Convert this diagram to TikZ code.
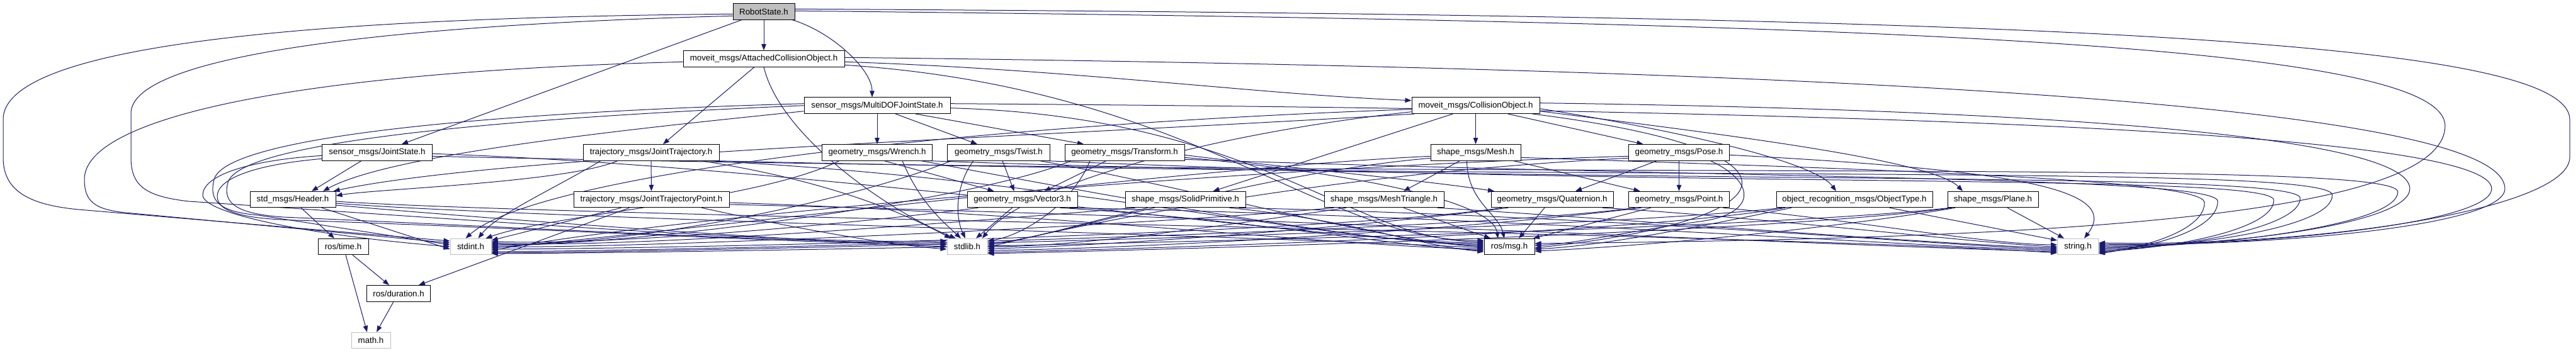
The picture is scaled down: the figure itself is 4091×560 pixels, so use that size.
\documentclass[tikz,border=0pt]{standalone}
\usepackage{fontspec}
\setmainfont{Liberation Sans}
\usetikzlibrary{arrows.meta,backgrounds}
\definecolor{edgecol}{HTML}{191970}
\definecolor{greyA}{HTML}{BFBFBF}
\begin{document}
\begin{tikzpicture}[x=1pt,y=1pt,
  nd/.style={draw=black, line width=1pt, fill=white, minimum height=25.5pt, inner sep=0pt, font=\fontsize{13.3}{15}\selectfont},
  extnode/.style={nd, draw=greyA},
  rootnode/.style={nd, fill=greyA},
  edg/.style={draw=edgecol, line width=1pt, -{Triangle[length=10pt,width=7.5pt]}}]
\useasboundingbox (0,0) rectangle (4091,-560);
\node[rootnode, minimum width=98pt] (RS) at (1213,-18.3) {RobotState.h};
\node[nd, minimum width=256pt] (ACO) at (1213,-93.3) {moveit\_msgs/AttachedCollisionObject.h};
\node[nd, minimum width=232pt] (MDOF) at (1393,-167.7) {sensor\_msgs/MultiDOFJointState.h};
\node[nd, minimum width=203pt] (CO) at (2343.5,-167.7) {moveit\_msgs/CollisionObject.h};
\node[nd, minimum width=175pt] (JS) at (599,-242.3) {sensor\_msgs/JointState.h};
\node[nd, minimum width=216pt] (JT) at (1034,-242.3) {trajectory\_msgs/JointTrajectory.h};
\node[nd, minimum width=175pt] (WR) at (1393,-242.3) {geometry\_msgs/Wrench.h};
\node[nd, minimum width=163pt] (TW) at (1586,-242.3) {geometry\_msgs/Twist.h};
\node[nd, minimum width=190pt] (TF) at (1786,-242.3) {geometry\_msgs/Transform.h};
\node[nd, minimum width=143pt] (ME) at (2343.5,-242.3) {shape\_msgs/Mesh.h};
\node[nd, minimum width=160pt] (PO) at (2666.5,-242.3) {geometry\_msgs/Pose.h};
\node[nd, minimum width=136pt] (HD) at (465,-317) {std\_msgs/Header.h};
\node[nd, minimum width=247pt] (JTP) at (1034.5,-317) {trajectory\_msgs/JointTrajectoryPoint.h};
\node[nd, minimum width=175pt] (V3) at (1623.5,-317) {geometry\_msgs/Vector3.h};
\node[nd, minimum width=191pt] (SP) at (1882.5,-317) {shape\_msgs/SolidPrimitive.h};
\node[nd, minimum width=190pt] (MT) at (2198,-317) {shape\_msgs/MeshTriangle.h};
\node[nd, minimum width=194pt] (QU) at (2465,-317) {geometry\_msgs/Quaternion.h};
\node[nd, minimum width=160pt] (PT) at (2666.5,-317) {geometry\_msgs/Point.h};
\node[nd, minimum width=248pt] (OT) at (2945,-317) {object\_recognition\_msgs/ObjectType.h};
\node[nd, minimum width=144pt] (PL) at (3165,-317) {shape\_msgs/Plane.h};
\node[nd, minimum width=80pt] (TI) at (545,-392) {ros/time.h};
\node[extnode, minimum width=65pt] (SI) at (747.5,-392) {stdint.h};
\node[extnode, minimum width=64pt] (SL) at (1536,-392) {stdlib.h};
\node[nd, minimum width=80pt] (MSG) at (2397,-392) {ros/msg.h};
\node[extnode, minimum width=65pt] (STR) at (3300,-392) {string.h};
\node[nd, minimum width=101pt] (DU) at (633,-466.3) {ros/duration.h};
\node[extnode, minimum width=62pt] (MA) at (589,-541) {math.h};

\begin{pgfonlayer}{background}
% dependencies
\draw[edg] (RS.south) -- (ACO.north);
\draw[edg] ([xshift=45]RS.south) .. controls (1320,-50) and (1385,-110) .. ([xshift=-8]MDOF.north);
\draw[edg] ([xshift=-35]RS.south) -- ([xshift=39]JS.north);
\draw[edg] ([xshift=-15]ACO.south) -- ([xshift=19]JT.north);
\draw[edg] ([yshift=-5]ACO.east) .. controls (1700,-110) and (2000,-150) .. ([yshift=8]CO.west);
\draw[edg] (MDOF.south) -- (WR.north);
\draw[edg] ([xshift=29]MDOF.south) -- ([xshift=-34]TW.north);
\draw[edg] ([xshift=61]MDOF.south) -- ([xshift=-65]TF.north);
\draw[edg] ([yshift=-9]MDOF.west) .. controls (1000,-205) and (620,-245) .. ([xshift=48]HD.north);
\draw[edg] ([xshift=5]CO.south west) .. controls (1700,-215) and (800,-245) .. ([xshift=-4]HD.north east);
\draw[edg] ([xshift=-25]JS.south) -- ([xshift=30]HD.north);
\draw[edg] ([xshift=-53]JT.south) .. controls (900,-290) and (600,-300) .. ([yshift=6]HD.east);
\draw[edg] (JT.south) -- (JTP.north);
\draw[edg] ([xshift=11]WR.south) -- ([xshift=-45]V3.north);
\draw[edg] ([xshift=6]TW.south) -- ([xshift=-13]V3.north);
\draw[edg] ([xshift=-29]TF.south) -- ([xshift=35]V3.north);
\draw[edg] ([yshift=-4]TF.east) .. controls (2000,-262) and (2250,-285) .. ([xshift=-92]QU.north);
\draw[edg] (CO.south) -- (ME.north);
\draw[edg] ([xshift=51]CO.south) -- ([xshift=-57]PO.north);
\draw[edg] ([xshift=-36]CO.south) -- ([xshift=44]SP.north);
\draw[edg] ([yshift=-5]CO.east) .. controls (2650,-205) and (2880,-255) .. ([xshift=-29]OT.north);
\draw[edg] ([yshift=-9]CO.east) .. controls (2750,-215) and (3070,-255) .. ([xshift=-48]PL.north);
\draw[edg] ([xshift=-25]ME.south) -- ([xshift=31]MT.north);
\draw[edg] ([xshift=60]ME.south) -- ([xshift=-62]PT.north);
\draw[edg] (PO.south) -- (PT.north);
\draw[edg] ([xshift=-35]PO.south) -- ([xshift=37]QU.north);
\draw[edg] ([xshift=13]HD.south) -- ([xshift=-14]TI.north);
\draw[edg] ([xshift=-35]JTP.south) -- ([xshift=32]DU.north);
\draw[edg] ([xshift=15]TI.south) -- ([xshift=-15]DU.north);
\draw[edg] ([xshift=4]TI.south) -- ([xshift=-6]MA.north);
\draw[edg] ([xshift=-8]DU.south) -- ([xshift=9]MA.north);
% RobotState
\draw[edg] ([yshift=-4]RS.west) .. controls (500,-28) and (5,-70) .. (5,-190) -- (5,-250) .. controls (5,-300) and (40,-325) .. (125,-333) -- ([yshift=9]SI.west);
\draw[edg] ([yshift=-7]RS.west) .. controls (600,-40) and (208,-90) .. (208,-180) -- (208,-250) .. controls (208,-295) and (230,-312) .. (300,-320) .. controls (900,-360) and (1250,-387) .. ([yshift=9]SL.west);
\draw[edg] ([yshift=4]RS.east) .. controls (3200,-25) and (4081,-60) .. (4081,-190) -- (4081,-250) .. controls (4081,-330) and (3700,-392) .. ([yshift=6]STR.east);
\draw[edg] ([yshift=1]RS.east) .. controls (3000,-35) and (3883,-70) .. (3883,-200) .. controls (3883,-360) and (3100,-380) .. ([yshift=5]MSG.east);
% AttachedCollisionObject
\draw[edg] ([yshift=-5]ACO.west) .. controls (450,-115) and (134,-190) .. (134,-285) .. controls (134,-320) and (150,-333) .. (200,-338) -- ([yshift=6]SI.west);
\draw[edg] (ACO.south) .. controls (1240,-220) and (1420,-340) .. ([xshift=-18]SL.north);
\draw[edg] ([yshift=-10]ACO.east) .. controls (1900,-140) and (2100,-385) .. ([yshift=10]MSG.west);
\draw[edg] ([yshift=2]ACO.east) .. controls (3000,-110) and (3978,-170) .. (3978,-300) .. controls (3978,-360) and (3600,-392) .. ([yshift=4]STR.east);
% MultiDOFJointState
\draw[edg] ([yshift=3]MDOF.west) .. controls (800,-178) and (360,-215) .. (340,-285) .. controls (332,-318) and (345,-336) .. (410,-342) -- ([yshift=3]SI.west);
\draw[edg] (MDOF.west) .. controls (800,-188) and (380,-225) .. (362,-290) .. controls (352,-325) and (380,-340) .. (450,-345) .. controls (900,-365) and (1300,-387) .. ([yshift=6]SL.west);
\draw[edg] ([yshift=-4]MDOF.east) .. controls (2000,-185) and (2150,-385) .. ([yshift=8]MSG.west);
\draw[edg] ([yshift=3]MDOF.east) .. controls (3000,-175) and (3957,-210) .. (3957,-300) .. controls (3957,-355) and (3600,-390) .. ([yshift=2]STR.east);
% CollisionObject
\draw[edg] ([yshift=-6]CO.west) .. controls (1500,-200) and (850,-280) .. ([xshift=-8]SI.north);
\draw[edg] ([yshift=-10]CO.west) .. controls (1900,-215) and (1620,-300) .. ([xshift=24]SL.north);
\draw[edg] ([xshift=90]CO.south) .. controls (2900,-240) and (2850,-350) .. ([yshift=-2]MSG.east);
\draw[edg] ([yshift=4]CO.east) .. controls (3300,-175) and (3827,-220) .. (3827,-300) .. controls (3827,-355) and (3550,-390) .. (STR.east);
% JointState
\draw[edg] ([yshift=-5]JS.west) .. controls (390,-255) and (322,-280) .. (322,-310) .. controls (322,-340) and (500,-375) .. (SI.west);
\draw[edg] ([yshift=-10]JS.west) .. controls (400,-262) and (345,-285) .. (345,-312) .. controls (345,-340) and (400,-348) .. (470,-350) .. controls (900,-365) and (1300,-388) .. ([yshift=3]SL.west);
\draw[edg] ([yshift=-2]JS.east) .. controls (1300,-265) and (2100,-385) .. ([yshift=6]MSG.west);
\draw[edg] ([yshift=-6]JS.east) .. controls (2500,-290) and (3808,-250) .. (3808,-305) .. controls (3808,-355) and (3550,-390) .. ([yshift=-2]STR.east);
% JointTrajectory
\draw[edg] ([xshift=-80]JT.south) .. controls (880,-300) and (790,-340) .. ([xshift=12]SI.north);
\draw[edg] ([xshift=80]JT.south) .. controls (1300,-285) and (1420,-330) .. ([xshift=-26]SL.north);
\draw[edg] ([xshift=90]JT.south) .. controls (1700,-285) and (2100,-385) .. ([yshift=4]MSG.west);
\draw[edg] ([xshift=100]JT.south) .. controls (2600,-290) and (3704,-260) .. (3704,-310) .. controls (3704,-360) and (3500,-390) .. ([yshift=-4]STR.east);
% Wrench
\draw[edg] ([xshift=40]WR.south) .. controls (1460,-320) and (1495,-350) .. ([xshift=-10]SL.north);
\draw[edg] ([xshift=-60]WR.south) .. controls (1200,-320) and (880,-340) .. ([xshift=24]SI.north);
\draw[edg] ([xshift=70]WR.south) .. controls (1700,-300) and (2150,-385) .. ([yshift=2]MSG.west);
\draw[edg] ([xshift=80]WR.south) .. controls (2600,-295) and (3653,-270) .. (3653,-315) .. controls (3653,-360) and (3480,-392) .. ([yshift=-6]STR.east);
% Twist
\draw[edg] ([xshift=-40]TW.south) .. controls (1520,-290) and (1515,-340) .. ([xshift=-3]SL.north);
\draw[edg] ([xshift=-75]TW.south) .. controls (1350,-320) and (1000,-392) .. ([yshift=4]SI.east);
\draw[edg] ([xshift=65]TW.south) .. controls (1900,-300) and (2200,-385) .. (MSG.west);
\draw[edg] ([xshift=75]TW.south) .. controls (2700,-300) and (3611,-275) .. (3611,-318) .. controls (3611,-362) and (3470,-392) .. ([yshift=-8]STR.east);
% Transform
\draw[edg] ([xshift=-55]TF.south) .. controls (1700,-330) and (1620,-375) .. ([yshift=9]SL.east);
\draw[edg] ([xshift=-85]TF.south) .. controls (1550,-320) and (1000,-390) .. ([yshift=2]SI.east);
\draw[edg] ([yshift=-8]TF.east) .. controls (2150,-275) and (2370,-320) .. ([xshift=-18]MSG.north);
\draw[edg] ([yshift=-11]TF.east) .. controls (2800,-285) and (3522,-280) .. (3522,-320) .. controls (3522,-365) and (3420,-392) .. ([yshift=-10]STR.east);
% Mesh
\draw[edg] ([xshift=-14]ME.south) .. controls (2330,-320) and (2380,-340) .. ([xshift=-8]MSG.north);
\draw[edg] ([yshift=-6]ME.west) .. controls (1900,-265) and (1050,-372) .. ([yshift=-2]SI.east);
\draw[edg] ([yshift=-9]ME.west) .. controls (2000,-275) and (1700,-370) .. ([yshift=3]SL.east);
\draw[edg] ([yshift=-8]ME.east) .. controls (3000,-270) and (3501,-285) .. (3501,-322) .. controls (3501,-365) and (3410,-392) .. ([yshift=-11]STR.east);
% Pose
\draw[edg] ([xshift=50]PO.south) .. controls (2790,-290) and (2790,-340) .. (2700,-352) .. controls (2600,-365) and (2500,-388) .. ([yshift=2]MSG.east);
\draw[edg] ([yshift=-6]PO.west) .. controls (2000,-265) and (1100,-340) .. ([yshift=-6]SI.east);
\draw[edg] ([yshift=-9]PO.west) .. controls (2100,-275) and (1700,-360) .. ([yshift=-1]SL.east);
\draw[edg] ([yshift=-4]PO.east) .. controls (3200,-270) and (3370,-300) .. ([xshift=10]STR.north);
% Header
\draw[edg] ([xshift=46]HD.south) -- ([yshift=-4]SI.west);
\draw[edg] ([yshift=-9]HD.east) .. controls (800,-350) and (1300,-385) .. (SL.west);
\draw[edg] ([yshift=-6]HD.east) .. controls (800,-345) and (2000,-375) .. ([yshift=-2]MSG.west);
\draw[edg] ([yshift=-3]HD.east) .. controls (900,-345) and (2800,-370) .. ([yshift=-10]STR.west);
% JointTrajectoryPoint
\draw[edg] ([xshift=-48]JTP.south) -- ([yshift=10]SI.east);
\draw[edg] ([xshift=80]JTP.south) .. controls (1250,-360) and (1400,-388) .. ([yshift=-4]SL.west);
\draw[edg] ([yshift=-5]JTP.east) .. controls (1700,-340) and (2100,-390) .. ([yshift=-4]MSG.west);
\draw[edg] ([yshift=-8]JTP.east) .. controls (2000,-345) and (2900,-390) .. ([yshift=-8]STR.west);
% Vector3
\draw[edg] ([xshift=-16]V3.south) -- ([xshift=14]SL.north);
\draw[edg] ([xshift=-70]V3.south) .. controls (1400,-350) and (1000,-390) .. ([yshift=8]SI.east);
\draw[edg] ([xshift=60]V3.south) .. controls (2000,-350) and (2200,-390) .. ([yshift=-6]MSG.west);
\draw[edg] ([xshift=75]V3.south) .. controls (2400,-345) and (3000,-390) .. ([yshift=-6]STR.west);
% SolidPrimitive
\draw[edg] ([xshift=-60]SP.south) .. controls (1700,-360) and (1620,-385) .. ([yshift=6]SL.east);
\draw[edg] ([xshift=-80]SP.south) .. controls (1500,-355) and (1000,-395) .. ([yshift=6]SI.east);
\draw[edg] ([xshift=70]SP.south) .. controls (2150,-350) and (2250,-390) .. ([yshift=-8]MSG.west);
\draw[edg] ([xshift=85]SP.south) .. controls (2600,-345) and (3100,-392) .. ([yshift=-4]STR.west);
% MeshTriangle
\draw[edg] ([xshift=31]MT.south) -- ([xshift=-30]MSG.north);
\draw[edg] ([xshift=-80]MT.south) .. controls (1800,-360) and (1000,-395) .. (SI.east);
\draw[edg] ([xshift=-60]MT.south) .. controls (1900,-365) and (1700,-392) .. (SL.east);
\draw[edg] ([xshift=85]MT.south) .. controls (2600,-350) and (3100,-390) .. ([yshift=-2]STR.west);
% Quaternion
\draw[edg] ([xshift=-12]QU.south) -- ([xshift=15]MSG.north);
\draw[edg] ([xshift=-80]QU.south) .. controls (2100,-372) and (1100,-395) .. ([yshift=-4]SI.east);
\draw[edg] ([xshift=-70]QU.south) .. controls (2100,-368) and (1700,-393) .. ([yshift=-3]SL.east);
\draw[edg] ([xshift=80]QU.south) .. controls (2800,-345) and (3150,-388) .. (STR.west);
% Point
\draw[edg] ([xshift=-45]PT.south) -- ([xshift=38]MSG.north);
\draw[edg] ([xshift=-70]PT.south) .. controls (2300,-370) and (1100,-398) .. ([yshift=-8]SI.east);
\draw[edg] ([xshift=-60]PT.south) .. controls (2300,-368) and (1800,-395) .. ([yshift=-6]SL.east);
\draw[edg] ([xshift=70]PT.south) .. controls (2950,-350) and (3150,-388) .. ([yshift=3]STR.west);
% ObjectType
\draw[edg] ([xshift=56]OT.south) -- ([yshift=10]STR.west);
\draw[edg] ([xshift=-100]OT.south) .. controls (2700,-360) and (2550,-390) .. ([yshift=-4]MSG.east);
\draw[edg] ([xshift=-110]OT.south) .. controls (2600,-372) and (1800,-396) .. ([yshift=-9]SL.east);
\draw[edg] ([xshift=-115]OT.south) .. controls (2500,-368) and (1100,-400) .. ([yshift=-10]SI.east);
% Plane
\draw[edg] ([xshift=23]PL.south) -- ([xshift=-22]STR.north);
\draw[edg] ([xshift=-60]PL.south) .. controls (2900,-365) and (2600,-392) .. ([yshift=-7]MSG.east);
\draw[edg] ([xshift=-65]PL.south) .. controls (2800,-372) and (1800,-398) .. ([yshift=-11]SL.east);
\draw[edg] ([xshift=-68]PL.south) .. controls (2700,-375) and (1100,-402) .. ([yshift=-11]SI.east);
\end{pgfonlayer}
\end{tikzpicture}
\end{document}
